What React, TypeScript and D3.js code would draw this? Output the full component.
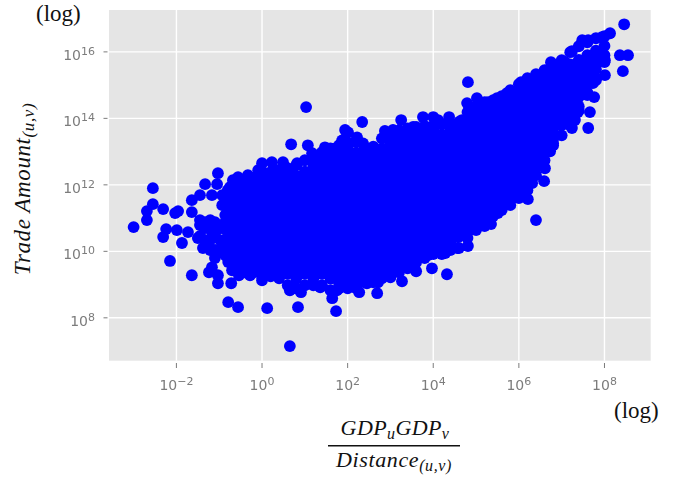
import React from "react";
import * as d3 from "d3";

const W = 689, H = 481;
const xExps = [-2, 0, 2, 4, 6, 8];
const yExps = [8, 10, 12, 14, 16];

// log10 values: points visible on the edge of the cloud and isolated ones
const edgeX = [-3.00,-2.69,-2.69,-2.55,-2.55,-2.31,-2.03,-1.96,-1.64,-1.64,-1.45,-1.33,-1.05,-1.03,-1.17,-2.24,-1.99,-1.73,-2.31,-1.87,-2.15,-1.64,-1.24,-1.17,-1.03,-1.03,-0.72,-0.79,-0.56,0.12,0.84,0.65,1.73,1.64,0,-0.54,-0.40,-0.56,-1.38,
-1.45,-1.33,-1.10,-0.86,-1.45,-1.21,-0.93,-1.17,-1.45,-1.21,-0.86,-1.10,-0.93,-0.93,
-1.33,-1.10,-1.33,-1.21,-1.10,-0.86,-1.50,-0.86,-0.79,-0.79,-0.79,-0.68,-0.51,-0.98,-0.98,-1.10,-0.63,-0.63,-0.63,-0.98,-0.61,-0.70,-0.79,-0.51,-0.28,
0.65,0.91,1.36,1.75,2.27,2.69,2.45,2.71,3.27,3.60,3.97,4.32,4.28,3.88,4.81,4.56,
5.35,5.02,5.51,6.21,6.40,6.59,6.31,6.61,6.73,6.80,7.24,7.62,7.66,7.76,7.38,8.01,8.43,8.55,8.36,8.46,8.13,8.01,7.73,7.31,
7.94,7.62,7.48,7.24,6.75,7.08,6.43,6.05,5.72,5.49,5.28,5.02,4.79,4.81,4.93,4.67,4.37,4.11,4.00,3.76,3.53,3.25,3.06,2.87,2.34,2.36,2.22,2.01,1.94,1.87,1.47,1.71,1.07,0.68,1.03,1.17,0.82,0.49,0.23,0,0.02,-0.33,-0.56,-0.75,-0.09,0.70];
const edgeY = [10.73,10.94,11.21,11.42,11.90,11.27,11.15,11.21,11.54,11.18,11.69,12.02,12.02,12.35,11.69,10.67,10.64,10.58,10.43,10.25,9.71,9.28,9.37,9.52,9.28,9.04,9.04,8.47,8.32,8.29,8.32,7.15,8.20,8.59,9.13,9.28,9.37,9.58,10.10,
10.79,10.88,10.88,11.09,10.94,10.94,10.70,10.58,10.46,10.34,10.34,10.04,11.39,11.69,
10.70,10.49,10.34,10.04,9.80,9.89,10.40,10.88,10.49,10.10,11.69,12.14,12.14,10.70,10.34,10.70,10.79,11.09,11.54,10.04,9.89,9.43,9.68,9.43,9.28,
8.83,8.77,8.92,8.83,8.77,8.74,9.04,9.07,9.10,9.40,9.49,9.31,9.95,9.89,10.16,10.10,
10.82,10.73,11.15,11.57,10.94,12.11,12.05,12.50,13.01,13.25,13.71,13.71,14.19,14.64,14.19,15.30,15.42,15.90,15.90,16.83,16.56,15.75,15.06,13.95,
16.44,16.35,16.35,16.02,15.69,15.69,15.24,15.09,14.76,14.61,14.49,14.61,14.46,15.09,14.25,13.95,14.04,13.95,14.04,14.04,13.74,13.95,13.65,13.62,13.89,13.25,13.43,13.58,13.65,13.34,13.13,13.10,13.19,13.22,14.34,12.95,12.65,12.68,12.68,12.65,12.38,12.29,12.23,11.93,12.44,12.35];

// estimated points that fill the solid body of the cloud, column by column
const bodyX = [-0.8,-0.6,-0.4,-0.2,0,0.2,0.4,0.6,0.8,1,1.2,1.4,1.6,1.8,2,2.2,2.4,2.6,2.8,3,3.2,3.4,3.6,3.8,4,4.2,4.4,4.6,4.8,5,5.2,5.4,5.6,5.8,6,6.2,6.4,6.6,6.8,7,7.2,7.4,7.6,7.8,8];
const bodyY = [
[9.80,10.02,10.30,10.58,10.86,11.14,11.42,11.70,11.84],
[9.58,9.88,10.16,10.44,10.72,11.00,11.28,11.56,11.84,12.02],
[9.49,9.74,10.02,10.30,10.58,10.86,11.14,11.42,11.70,11.98,12.14],
[9.37,9.60,9.88,10.16,10.44,10.72,11.00,11.28,11.56,11.84,12.12,12.20],
[9.25,9.46,9.74,10.02,10.30,10.58,10.86,11.14,11.42,11.70,11.98,12.26,12.38],
[9.25,9.32,9.60,9.88,10.16,10.44,10.72,11.00,11.28,11.56,11.84,12.12,12.38],
[9.19,9.46,9.74,10.02,10.30,10.58,10.86,11.14,11.42,11.70,11.98,12.26,12.44],
[8.98,9.32,9.60,9.88,10.16,10.44,10.72,11.00,11.28,11.56,11.84,12.12,12.40,12.50],
[8.89,9.18,9.46,9.74,10.02,10.30,10.58,10.86,11.14,11.42,11.70,11.98,12.26,12.59],
[8.98,9.32,9.60,9.88,10.16,10.44,10.72,11.00,11.28,11.56,11.84,12.12,12.40,12.74],
[8.98,9.18,9.46,9.74,10.02,10.30,10.58,10.86,11.14,11.42,11.70,11.98,12.26,12.54,12.83],
[8.98,9.32,9.60,9.88,10.16,10.44,10.72,11.00,11.28,11.56,11.84,12.12,12.40,12.68,12.98],
[8.83,9.18,9.46,9.74,10.02,10.30,10.58,10.86,11.14,11.42,11.70,11.98,12.26,12.54,12.82,13.10],
[8.89,9.04,9.32,9.60,9.88,10.16,10.44,10.72,11.00,11.28,11.56,11.84,12.12,12.40,12.68,12.96,13.19],
[8.89,9.18,9.46,9.74,10.02,10.30,10.58,10.86,11.14,11.42,11.70,11.98,12.26,12.54,12.82,13.10,13.28],
[8.89,9.04,9.32,9.60,9.88,10.16,10.44,10.72,11.00,11.28,11.56,11.84,12.12,12.40,12.68,12.96,13.28],
[9.07,9.18,9.46,9.74,10.02,10.30,10.58,10.86,11.14,11.42,11.70,11.98,12.26,12.54,12.82,13.10],
[9.07,9.32,9.60,9.88,10.16,10.44,10.72,11.00,11.28,11.56,11.84,12.12,12.40,12.68,12.96,13.15],
[9.19,9.46,9.74,10.02,10.30,10.58,10.86,11.14,11.42,11.70,11.98,12.26,12.54,12.82,13.10,13.40],
[9.22,9.32,9.60,9.88,10.16,10.44,10.72,11.00,11.28,11.56,11.84,12.12,12.40,12.68,12.96,13.24,13.49],
[9.37,9.46,9.74,10.02,10.30,10.58,10.86,11.14,11.42,11.70,11.98,12.26,12.54,12.82,13.10,13.38,13.64],
[9.49,9.60,9.88,10.16,10.44,10.72,11.00,11.28,11.56,11.84,12.12,12.40,12.68,12.96,13.24,13.52,13.70],
[9.67,9.74,10.02,10.30,10.58,10.86,11.14,11.42,11.70,11.98,12.26,12.54,12.82,13.10,13.38,13.66,13.74],
[9.80,9.88,10.16,10.44,10.72,11.00,11.28,11.56,11.84,12.12,12.40,12.68,12.96,13.24,13.52,13.77],
[9.92,10.02,10.30,10.58,10.86,11.14,11.42,11.70,11.98,12.26,12.54,12.82,13.10,13.38,13.66,13.77],
[9.92,10.16,10.44,10.72,11.00,11.28,11.56,11.84,12.12,12.40,12.68,12.96,13.24,13.52,13.83],
[10.04,10.30,10.58,10.86,11.14,11.42,11.70,11.98,12.26,12.54,12.82,13.10,13.38,13.66,13.83],
[10.10,10.44,10.72,11.00,11.28,11.56,11.84,12.12,12.40,12.68,12.96,13.24,13.52,13.80,13.89],
[10.40,10.58,10.86,11.14,11.42,11.70,11.98,12.26,12.54,12.82,13.10,13.38,13.66,13.94,14.19],
[10.64,10.72,11.00,11.28,11.56,11.84,12.12,12.40,12.68,12.96,13.24,13.52,13.80,14.08,14.37],
[10.76,10.86,11.14,11.42,11.70,11.98,12.26,12.54,12.82,13.10,13.38,13.66,13.94,14.22,14.49],
[11.06,11.28,11.56,11.84,12.12,12.40,12.68,12.96,13.24,13.52,13.80,14.08,14.36,14.55],
[11.24,11.42,11.70,11.98,12.26,12.54,12.82,13.10,13.38,13.66,13.94,14.22,14.50,14.67],
[11.39,11.56,11.84,12.12,12.40,12.68,12.96,13.24,13.52,13.80,14.08,14.36,14.64,14.85],
[11.60,11.70,11.98,12.26,12.54,12.82,13.10,13.38,13.66,13.94,14.22,14.50,14.78,15.03],
[11.84,12.12,12.40,12.68,12.96,13.24,13.52,13.80,14.08,14.36,14.64,14.92,15.21],
[12.29,12.54,12.82,13.10,13.38,13.66,13.94,14.22,14.50,14.78,15.06,15.33],
[12.74,12.96,13.24,13.52,13.80,14.08,14.36,14.64,14.92,15.20,15.45],
[13.19,13.38,13.66,13.94,14.22,14.50,14.78,15.06,15.34,15.57],
[13.49,13.80,14.08,14.36,14.64,14.92,15.20,15.48,15.75],
[13.79,13.94,14.22,14.50,14.78,15.06,15.34,15.62,15.99],
[14.24,14.36,14.64,14.92,15.20,15.48,15.76,16.17],
[14.70,14.78,15.06,15.34,15.62,15.90,16.29],
[15.15,15.20,15.48,15.76,16.04,16.41],
[15.69,15.90,16.18,16.47],
];

const plot = { left: 109, right: 650.7, top: 10, bottom: 360.7 };
const x = d3.scaleLog().domain([Math.pow(10, -3.575), Math.pow(10, 9.08)]).range([plot.left, plot.right]);
const y = d3.scaleLog().domain([Math.pow(10, 6.71), Math.pow(10, 17.26)]).range([plot.bottom, plot.top]);

const points: [number, number][] = [
  ...edgeX.map((v, i) => [v, edgeY[i]] as [number, number]),
  ...bodyX.flatMap((v, i) => bodyY[i].map((w) => [v, w] as [number, number])),
];

const tickColor = "#7c7c7c";
const serif = "'Liberation Serif', serif";

function Pow({ e, px, py, anchor }: { e: number; px: number; py: number; anchor: "middle" | "end" }) {
  const lab = e < 0 ? "\u2212" + Math.abs(e) : String(e);
  return (
    <text x={px} y={py} textAnchor={anchor} fontFamily="'DejaVu Sans', sans-serif" fontSize={14} fill={tickColor}>
      10<tspan fontSize={11} dy={-5}>{lab}</tspan>
    </text>
  );
}

export default function App() {
  return (
    <svg width={W} height={H} style={{ position: "absolute", left: 0, top: 0 }}>
      <defs>
        <filter id="soft" x="-5%" y="-5%" width="110%" height="110%">
          <feGaussianBlur stdDeviation="0.55" />
        </filter>
      </defs>
      <rect width={W} height={H} fill="#fff" />
      <g filter="url(#soft)">
        <rect x={plot.left} y={plot.top} width={plot.right - plot.left} height={plot.bottom - plot.top} fill="#e5e5e5" />
        {xExps.map((e) => (
          <line key={e} x1={x(Math.pow(10, e))} x2={x(Math.pow(10, e))} y1={plot.top} y2={plot.bottom} stroke="#fff" strokeWidth={1.4} />
        ))}
        {yExps.map((e) => (
          <line key={e} y1={y(Math.pow(10, e))} y2={y(Math.pow(10, e))} x1={plot.left} x2={plot.right} stroke="#fff" strokeWidth={1.4} />
        ))}
        {points.map(([a, b], i) => (
          <circle key={i} cx={x(Math.pow(10, a))} cy={y(Math.pow(10, b))} r={5.9} fill="#0000ff" />
        ))}
        {xExps.map((e) => (
          <g key={e}>
            <line x1={x(Math.pow(10, e))} x2={x(Math.pow(10, e))} y1={363} y2={368} stroke={tickColor} strokeWidth={1} />
            <Pow e={e} px={x(Math.pow(10, e))} py={390} anchor="middle" />
          </g>
        ))}
        {yExps.map((e) => (
          <g key={e}>
            <line x1={103.5} x2={107.5} y1={y(Math.pow(10, e))} y2={y(Math.pow(10, e))} stroke={tickColor} strokeWidth={1} />
            <Pow e={e} px={95} py={y(Math.pow(10, e)) + 8} anchor="end" />
          </g>
        ))}
      </g>
      <text x={36} y={21} fontFamily={serif} fontSize={23} fill="#111">(log)</text>
      <text x={614} y={418} fontFamily={serif} fontSize={23} fill="#111">(log)</text>
      <text transform="translate(30,189) rotate(-90)" textAnchor="middle" fontFamily={serif} fontStyle="italic" fontSize={23} letterSpacing={0.6} fill="#111">
        Trade Amount<tspan fontSize={17} dy={4}>(u,v)</tspan>
      </text>
      <text x={395} y={435} textAnchor="middle" fontFamily={serif} fontStyle="italic" fontSize={22} letterSpacing={0.4} fill="#111">
        GDP<tspan fontSize={16} dy={4}>u</tspan><tspan dy={-4}>GDP</tspan><tspan fontSize={16} dy={4}>v</tspan>
      </text>
      <line x1={328} x2={460} y1={445.7} y2={445.7} stroke="#111" strokeWidth={1.5} />
      <text x={394} y={467} textAnchor="middle" fontFamily={serif} fontStyle="italic" fontSize={22} letterSpacing={0.6} fill="#111">
        Distance<tspan fontSize={16} dy={4}>(u,v)</tspan>
      </text>
    </svg>
  );
}
